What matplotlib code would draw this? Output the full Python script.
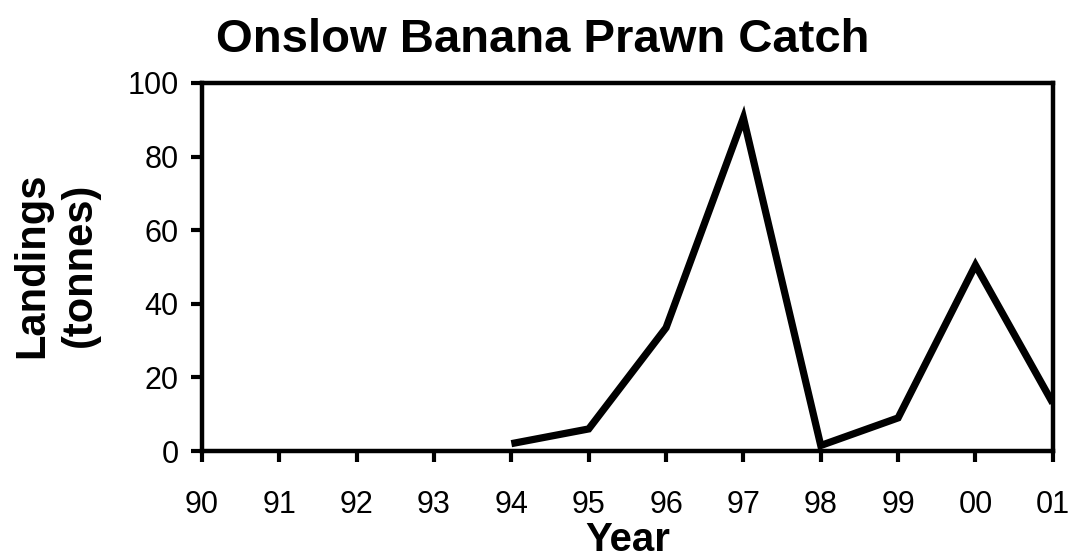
import matplotlib
matplotlib.use("Agg")
import matplotlib.pyplot as plt
import numpy as np

years = ['90', '91', '92', '93', '94', '95', '96', '97', '98', '99', '00', '01']
catch_years = ['94', '95', '96', '97', '98', '99', '00', '01']
landings = [2, 6, 33.5, 90.5, 1.5, 9, 50.5, 13]

plt.rcParams['font.family'] = ['Liberation Sans', 'DejaVu Sans']

fig = plt.figure(figsize=(10.71, 5.6), dpi=100)
ax = fig.add_axes([0.1886, 0.1946, 0.7944, 0.6574])

xpos = [years.index(y) for y in catch_years]
ax.plot(xpos, landings, color='black', lw=5.2, solid_joinstyle='miter', solid_capstyle='butt')

ax.set_xlim(0, len(years) - 1)
ax.set_ylim(0, 100)
ax.set_xticks(np.arange(len(years)))
ax.set_xticklabels(years)
ax.set_yticks(np.arange(0, 101, 20))

for s in ax.spines.values():
    s.set_linewidth(3.2)
ax.tick_params(axis='both', direction='out', length=8, width=3, labelsize=22)
ax.tick_params(axis='x', pad=20)
ax.tick_params(axis='y', pad=9)

fig.text(0.507, 1 - 52 / 560, 'Onslow Banana Prawn Catch', ha='center', va='baseline',
         fontsize=34, fontweight='bold')
fig.text(0.052, 1 - 265 / 560, 'Landings\n(tonnes)', ha='center', va='center', rotation=90,
         fontsize=30, fontweight='bold', multialignment='center', linespacing=1.25)
fig.text(0.586, 1 - 551 / 560, 'Year', ha='center', va='baseline',
         fontsize=29, fontweight='bold')

fig.savefig('out.png', dpi=100)
